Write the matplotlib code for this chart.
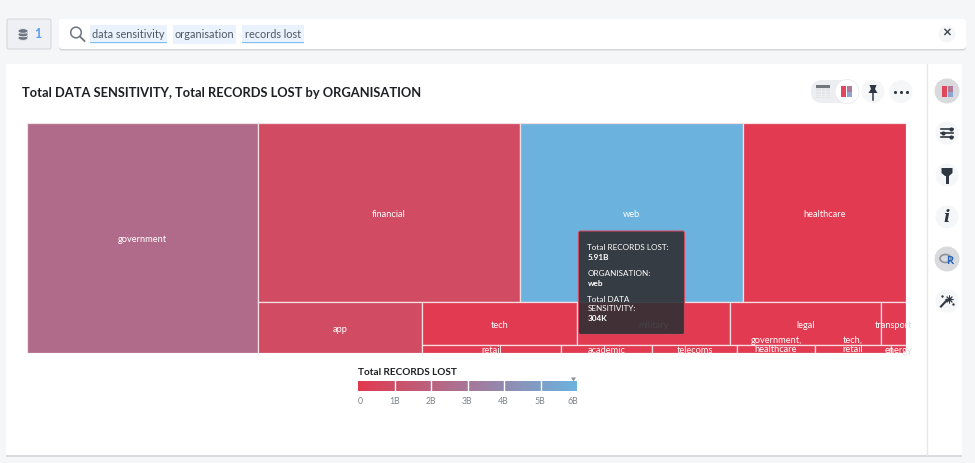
import numpy as np
import matplotlib
matplotlib.use("Agg")
import matplotlib.pyplot as plt
from matplotlib.colors import LinearSegmentedColormap
from matplotlib.patches import Rectangle, FancyBboxPatch, Circle, Polygon, Ellipse

plt.rcParams['font.family'] = ['Lato', 'DejaVu Sans']

# ---- data ----
organisations = ["government", "financial", "web", "healthcare", "app", "tech", "military",
                 "legal", "transport", "retail", "academic", "telecoms",
                 "government,\nhealthcare", "tech,\nretail", "energy"]
data_sensitivity_k = [403.0, 357.2, 304.0, 222.2, 62.5, 50.8, 50.1, 49.5, 8.2, 7.4, 4.9, 4.5, 4.2, 4.05, 0.8]
records_lost_b = [2.45, 0.85, 5.91, 0.03, 0.85, 0.03, 0.03, 0.03, 0.03, 0.03, 0.03, 0.03, 0.03, 0.03, 0.03]
legend_ticks = [0, 1, 2, 3, 4, 5, 6]
legend_labels = ["0", "1B", "2B", "3B", "4B", "5B", "6B"]
tooltip_lines = [("Total RECORDS LOST:", False), ("5.91B", True), ("ORGANISATION:", False), ("web", True),
                 ("Total DATA", False), ("SENSITIVITY:", False), ("304K", True)]
search_tokens = ["data sensitivity", "organisation", "records lost"]
title = "Total DATA SENSITIVITY, Total RECORDS LOST by ORGANISATION"

# nesting of the treemap: (direction, children); integers index the lists above
tree = ("h", [0, ("v", [("h", [1, 2, 3]),
                        ("h", [4, ("v", [("h", [5, 6, 7, 8]),
                                         ("h", [9, 10, 11, 12, 13, 14])])])])])

W, H = 975, 463
fig = plt.figure(figsize=(W / 100, H / 100), dpi=100, facecolor="#f5f6f8")
cmap = LinearSegmentedColormap.from_list("rec", ["#e23a4f", "#6bb3e0"])


def px_axes(x0, y0, x1, y1, **kw):
    return fig.add_axes([x0 / W, 1 - y1 / H, (x1 - x0) / W, (y1 - y0) / H], **kw)


# chrome, in pixel coordinates
ui = px_axes(0, 0, W, H, zorder=0)
ui.set_xlim(0, W); ui.set_ylim(H, 0); ui.axis("off")


def box(x0, y0, x1, y1, fc, ec="none", r=2, z=1, lw=0.8, ax=ui, **kw):
    p = FancyBboxPatch((x0 + r, y0 + r), x1 - x0 - 2 * r, y1 - y0 - 2 * r,
                       boxstyle=f"round,pad={r},rounding_size={r}", fc=fc, ec=ec, lw=lw, zorder=z, **kw)
    ax.add_patch(p)
    return p


# source button
box(7, 19, 51, 49, "#eef0f3", "#d5d8dd", r=2)
ui.add_patch(Rectangle((18.5, 30), 9, 8, fc="#6d7580", ec="none", zorder=2))
for yy in (38, 34.5, 31):
    ui.add_patch(Ellipse((23, yy), 10, 4.6, fc="#6d7580", ec="#eef0f3", lw=0.6, zorder=3))
ui.text(37.5, 34, "1", color="#5b9df0", fontsize=9, fontweight="bold", ha="center", va="center")

# search bar
box(59, 21, 966, 50.5, "#d4d6da", r=3, z=1)
box(59, 19, 966, 49, "#ffffff", r=3, z=2)
ui.add_patch(Circle((76, 32.5), 5.3, fc="none", ec="#6d7580", lw=1.1, zorder=3))
ui.plot([80, 84.5], [36.5, 41], color="#6d7580", lw=1.3, zorder=3)
for tok, x0, x1, under in zip(search_tokens, [90, 173, 242], [167, 236, 303.5], [True, False, True]):
    ui.add_patch(Rectangle((x0, 24.5), x1 - x0, 19, fc="#eaf3fd", ec="none", zorder=3))
    if under:
        ui.add_patch(Rectangle((x0, 41.8), x1 - x0, 1.3, fc="#7cc0f5", ec="none", zorder=4))
    ui.text((x0 + x1) / 2, 34, tok, fontsize=7.8, color="#4e5661", ha="center", va="center", zorder=5)
ui.text(947, 34, "\u00d7", fontsize=11, fontweight="bold", color="#3d444d", ha="center", va="center", zorder=5)
ui.add_patch(Circle((947, 34), 8.5, fc="#f5f6f8", ec="none", zorder=4))

# card
ui.add_patch(Rectangle((6, 64), 962 - 6, 392.5, fc="#d9dbdf", ec="none", zorder=1))
ui.add_patch(Rectangle((6, 64), 962 - 6, 391, fc="#ffffff", ec="none", zorder=2))
ui.plot([926.5, 926.5], [64, 455], color="#e6e8eb", lw=1, zorder=3)
ui.text(21.5, 93, title, fontsize=9.25, fontweight="bold", color="#1c1f24", ha="left", va="center", zorder=5)

# toggle & action icons
box(811, 80, 858, 103, "#eceef2", r=11, z=3)
ui.add_patch(Circle((847, 91.5), 12, fc="#ffffff", ec="#e6e8eb", lw=0.5, zorder=4))
ui.add_patch(Rectangle((816, 85), 14, 13, fc="#e3e4e7", ec="none", zorder=4))
ui.add_patch(Rectangle((816, 85), 14, 2.5, fc="#72767d", ec="none", zorder=5))
for gx in (820.5, 825):
    ui.plot([gx, gx], [87.5, 98], color="#f3f3f5", lw=0.5, zorder=6)
for gy in (90.5, 93.5, 96):
    ui.plot([816, 830], [gy, gy], color="#f3f3f5", lw=0.5, zorder=6)
ui.add_patch(Rectangle((841, 86), 5, 11, fc="#e0475c", ec="none", zorder=5))
ui.add_patch(Rectangle((847, 86), 5, 6, fc="#b07a96", ec="none", zorder=5))
ui.add_patch(Rectangle((847, 92), 5, 5, fc="#8fa6d2", ec="none", zorder=5))
for cx, cy, r, fc in [(873, 91.5, 11.5, "#f5f6f8"), (901, 91.5, 11.5, "#f5f6f8"), (947, 91, 12.5, "#d9dadd"),
                      (947, 133, 11.5, "#f5f6f8"), (947, 175, 11.5, "#f5f6f8"), (947, 217, 11.5, "#f5f6f8"),
                      (947, 259, 12.5, "#d9dadd"), (947, 301, 11.5, "#f5f6f8")]:
    ui.add_patch(Circle((cx, cy), r, fc=fc, ec="none", zorder=3))
dark = "#2f3742"
ui.add_patch(Polygon([(869.5, 85), (876.5, 85), (875, 89), (877.5, 93), (868.5, 93), (871, 89)], fc=dark, ec="none", zorder=5))
ui.plot([873, 873], [93, 99.5], color=dark, lw=1.1, zorder=5)
ui.scatter([895, 901, 907], [91.5, 91.5, 91.5], s=5, color=dark, zorder=5, linewidths=0)
ui.add_patch(Rectangle((942, 86), 5, 11, fc="#e0475c", ec="none", zorder=5))
ui.add_patch(Rectangle((947.5, 86), 5, 6, fc="#b07a96", ec="none", zorder=5))
ui.add_patch(Rectangle((947.5, 92), 5, 5, fc="#8fa6d2", ec="none", zorder=5))
for yy, dotx in [(129, 951), (133, 943), (137, 951)]:
    ui.plot([941, 953], [yy, yy], color=dark, lw=1.2, zorder=5)
    ui.scatter([dotx], [yy], s=9, color=dark, zorder=6, linewidths=0)
ui.add_patch(Polygon([(941.5, 168), (952.5, 168), (952.5, 173), (949, 176), (945, 176), (941.5, 173)], fc=dark, ec="none", zorder=5))
ui.add_patch(Rectangle((945.5, 176), 3, 7.5, fc=dark, ec="none", zorder=5))
ui.text(947, 217, "i", fontsize=12, fontstyle="italic", fontweight="bold", family="DejaVu Serif", color=dark,
        ha="center", va="center", zorder=5)
ui.add_patch(Ellipse((945.5, 258.5), 11, 8, fc="none", ec="#8d939b", lw=1.2, zorder=5))
ui.text(949.5, 260.5, "R", fontsize=8, fontweight="bold", color="#1f66c1", ha="center", va="center", zorder=6)
ui.plot([941, 947], [306.5, 300], color=dark, lw=1.5, zorder=5)
ui.scatter([948.5], [298.5], s=26, marker=(8, 2), color=dark, linewidths=0.7, zorder=5)
ui.scatter([953, 942], [304, 296], s=3, color=dark, linewidths=0, zorder=5)

# treemap
tm = px_axes(27, 123, 906, 352.5, zorder=2)
tm.axis("off")


def node_sum(n):
    return data_sensitivity_k[n] if isinstance(n, int) else sum(node_sum(c) for c in n[1])


def layout(n, x0, y0, x1, y1, out):
    if isinstance(n, int):
        out[n] = (x0, y0, x1, y1)
        return
    direction, kids = n
    total = sum(node_sum(k) for k in kids)
    pos = x0 if direction == "h" else y0
    for k in kids:
        f = node_sum(k) / total
        if direction == "h":
            layout(k, pos, y0, pos + f * (x1 - x0), y1, out)
            pos += f * (x1 - x0)
        else:
            layout(k, x0, pos, x1, pos + f * (y1 - y0), out)
            pos += f * (y1 - y0)


cells = {}
layout(tree, 0, 0, 1, 1, cells)
tm.set_xlim(0, 1); tm.set_ylim(1, 0)
overflowing = ("transport", "energy")
for i, name in enumerate(organisations):
    x0, y0, x1, y1 = cells[i]
    tm.add_patch(Rectangle((x0, y0), x1 - x0, y1 - y0, fc=cmap(records_lost_b[i] / 6), ec="#f3dfe2", lw=0.9, zorder=2))
    cx, cy = (x0 + x1) / 2, (y0 + y1) / 2
    dy = -2 if "\n" not in name else 4
    kw = dict(xycoords="data", textcoords="offset pixels", xytext=(0, dy), fontsize=6.7,
              ha="center", va="center", linespacing=1.05)
    if name in overflowing:
        tm.annotate(name, (cx, cy), color="#dcdde0", zorder=1, annotation_clip=False, clip_on=False, **kw)
    tm.annotate(name, (cx, cy), color="white", zorder=3, clip_on=True, **kw)

# tooltip
tip = px_axes(570, 225, 695, 345, zorder=4)
tip.set_xlim(570, 695); tip.set_ylim(345, 225); tip.axis("off"); tip.patch.set_alpha(0)
box(578.5, 231, 684.5, 334.5, "#2f2f33", "#d9485b", r=2, ax=tip, alpha=0.9, lw=0.8)
for (txt, bold), yy in zip(tooltip_lines, [247, 257, 273, 283, 298.5, 308, 318]):
    tip.text(587.5, yy + 0.7, txt, color="white", fontsize=5.9, fontweight="bold" if bold else "normal",
             ha="left", va="center", zorder=5)

# legend
ui.text(358, 372.5, "Total RECORDS LOST", fontsize=7.2, fontweight="bold", color="#1c1f24", ha="left", va="center", zorder=5)
leg = px_axes(358, 381, 577, 390.5, zorder=3)
leg.imshow(np.linspace(0, 1, 256)[None, :], cmap=cmap, aspect="auto", extent=(0, 6, 0, 1))
leg.set_xlim(0, 6); leg.set_yticks([])
leg.set_xticks(legend_ticks[1:-1])
leg.tick_params(length=0, labelbottom=False)
leg.grid(axis="x", color="white", lw=1)
for s in leg.spines.values():
    s.set_visible(False)
for t, lab in zip(legend_ticks, legend_labels):
    ui.text(358 + t * 36.4 + (2 if t == 0 else -4 if t == 6 else 0), 401.5, lab, fontsize=6.3, color="#7d838b", ha="center", va="center", zorder=5)
ui.add_patch(Polygon([(571, 377.5), (576, 377.5), (573.5, 381.5)], fc="#8b8f96", ec="none", zorder=5))

fig.savefig("out.png", dpi=100, facecolor=fig.get_facecolor())
